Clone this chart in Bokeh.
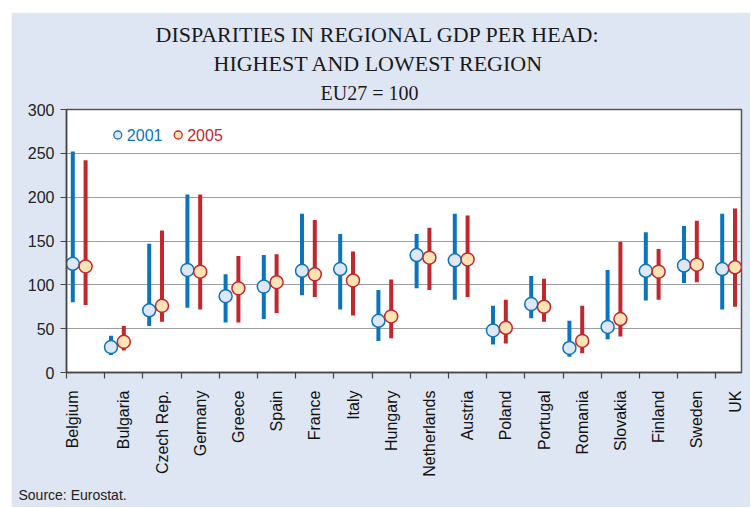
import math
from bokeh.plotting import figure
from bokeh.models import Range1d, FixedTicker, Title
from bokeh.core.properties import value
from bokeh.embed import file_html
from bokeh.resources import INLINE

# ---- data (EU27 = 100) ----
countries = ["Belgium", "Bulgaria", "Czech Rep.", "Germany", "Greece", "Spain",
             "France", "Italy", "Hungary", "Netherlands", "Austria", "Poland",
             "Portugal", "Romania", "Slovakia", "Finland", "Sweden", "UK"]
high_2001 = [252, 42, 147, 203, 112, 134, 181, 158, 94, 158, 181, 76, 110, 59, 117, 160, 167, 181]
low_2001 = [80, 20, 53, 74, 57, 61, 88, 72, 36, 96, 83, 32, 62, 18, 38, 82, 102, 72]
nat_2001 = [124, 29, 71, 117, 87, 98, 116, 118, 59, 134, 128, 48, 78, 28, 52, 116, 122, 118]
high_2005 = [242, 53, 162, 203, 133, 135, 174, 138, 106, 165, 179, 83, 107, 76, 149, 141, 173, 187]
low_2005 = [77, 25, 58, 72, 57, 68, 86, 65, 39, 94, 86, 33, 58, 22, 41, 83, 103, 75]
nat_2005 = [121, 35, 76, 115, 96, 103, 112, 105, 64, 131, 129, 51, 75, 36, 61, 115, 123, 120]
y_ticks = [0, 50, 100, 150, 200, 250, 300]
series_names = ["2001", "2005"]

BLUE = "#0b74bf"
RED = "#c4262e"
BLUE_FILL = "#dde7f5"
RED_FILL = "#fbe3b3"
PANEL = "#dfe6f3"

p = figure(width=739, height=495, output_backend="svg", toolbar_location=None,
           x_range=Range1d(0, 17.67), y_range=Range1d(0, 300),
           min_border_left=55, min_border_right=9, min_border_top=97, min_border_bottom=135,
           background_fill_color="white", border_fill_color=PANEL)
p.margin = (12, 0, 0, 11)
p.outline_line_color = "#555555"
p.outline_line_width = 1.5

n = len(countries)
x01 = [i + 0.165 for i in range(n)]
x05 = [i + 0.5 for i in range(n)]

p.segment(x0=x01, y0=low_2001, x1=x01, y1=high_2001, line_color=BLUE, line_width=4)
p.segment(x0=x05, y0=low_2005, x1=x05, y1=high_2005, line_color=RED, line_width=4)
p.scatter(x=x01, y=nat_2001, size=13, fill_color=BLUE_FILL, line_color=BLUE, line_width=1.5)
p.scatter(x=x05, y=nat_2005, size=13, fill_color=RED_FILL, line_color=RED, line_width=1.5)

# legend (drawn manually)
p.scatter(x=[1.343], y=[270.9], size=8, fill_color=BLUE_FILL, line_color=BLUE, line_width=1.3)
p.scatter(x=[2.924], y=[270.9], size=8, fill_color=RED_FILL, line_color=RED, line_width=1.3)
p.text(x=[1.58], y=[270.9], text=[series_names[0]], text_font=value("Liberation Sans"),
       text_font_size="16px", text_baseline="middle", text_align="left", text_color=BLUE)
p.text(x=[3.16], y=[270.9], text=[series_names[1]], text_font=value("Liberation Sans"),
       text_font_size="16px", text_baseline="middle", text_align="left", text_color=RED)

# axes
label_pos = [i + 0.5 for i in range(n)]
label_pos[0] = 0.16
xa = p.xaxis[0]
xa.ticker = FixedTicker(ticks=label_pos, minor_ticks=list(range(n)))
xa.major_label_overrides = {pos: name for pos, name in zip(label_pos, countries)}
xa.major_label_orientation = math.pi / 2
xa.major_tick_out = 0
xa.major_tick_in = 0
xa.minor_tick_out = 6
xa.minor_tick_in = 0
xa.minor_tick_line_color = "#444444"
xa.minor_tick_line_width = 1.2
xa.axis_line_color = "#444444"
xa.axis_line_width = 1.5
xa.major_label_standoff = 12
xa.major_label_text_font = "Liberation Sans"
xa.major_label_text_font_size = "16px"
xa.major_label_text_color = "#111111"

ya = p.yaxis[0]
ya.ticker = FixedTicker(ticks=y_ticks)
ya.minor_tick_line_color = None
ya.major_tick_out = 6
ya.major_tick_in = 0
ya.major_tick_line_color = "#444444"
ya.major_tick_line_width = 1.2
ya.axis_line_color = "#444444"
ya.axis_line_width = 1.5
ya.major_label_standoff = 6
ya.major_label_text_font = "Liberation Sans"
ya.major_label_text_font_size = "16px"
ya.major_label_text_color = "#222222"

p.xgrid.grid_line_color = None
p.ygrid.ticker = FixedTicker(ticks=y_ticks)
p.ygrid.grid_line_color = "#9a9ea3"
p.ygrid.grid_line_width = 1.2

# titles (stacked outward from the frame)
title_font = "Liberation Serif"
p.add_layout(Title(text="EU27 = 100", text_font=title_font, text_font_size="20px",
                   text_font_style="normal", text_color="#1a1a1a",
                   align="left", offset=254, standoff=12), "above")
p.add_layout(Title(text="HIGHEST AND LOWEST REGION", text_font=title_font, text_font_size="22px",
                   text_font_style="normal", text_color="#1a1a1a",
                   align="left", offset=147, standoff=-4), "above")
p.add_layout(Title(text="DISPARITIES IN REGIONAL GDP PER HEAD:", text_font=title_font,
                   text_font_size="22px", text_font_style="normal", text_color="#1a1a1a",
                   align="left", offset=89, standoff=8), "above")
p.add_layout(Title(text="Source: Eurostat.", text_font="Liberation Sans", text_font_size="14px",
                   text_font_style="normal", text_color="#222222",
                   align="left", offset=-48, standoff=10), "below")

open("out.html", "w").write(file_html(p, INLINE))
